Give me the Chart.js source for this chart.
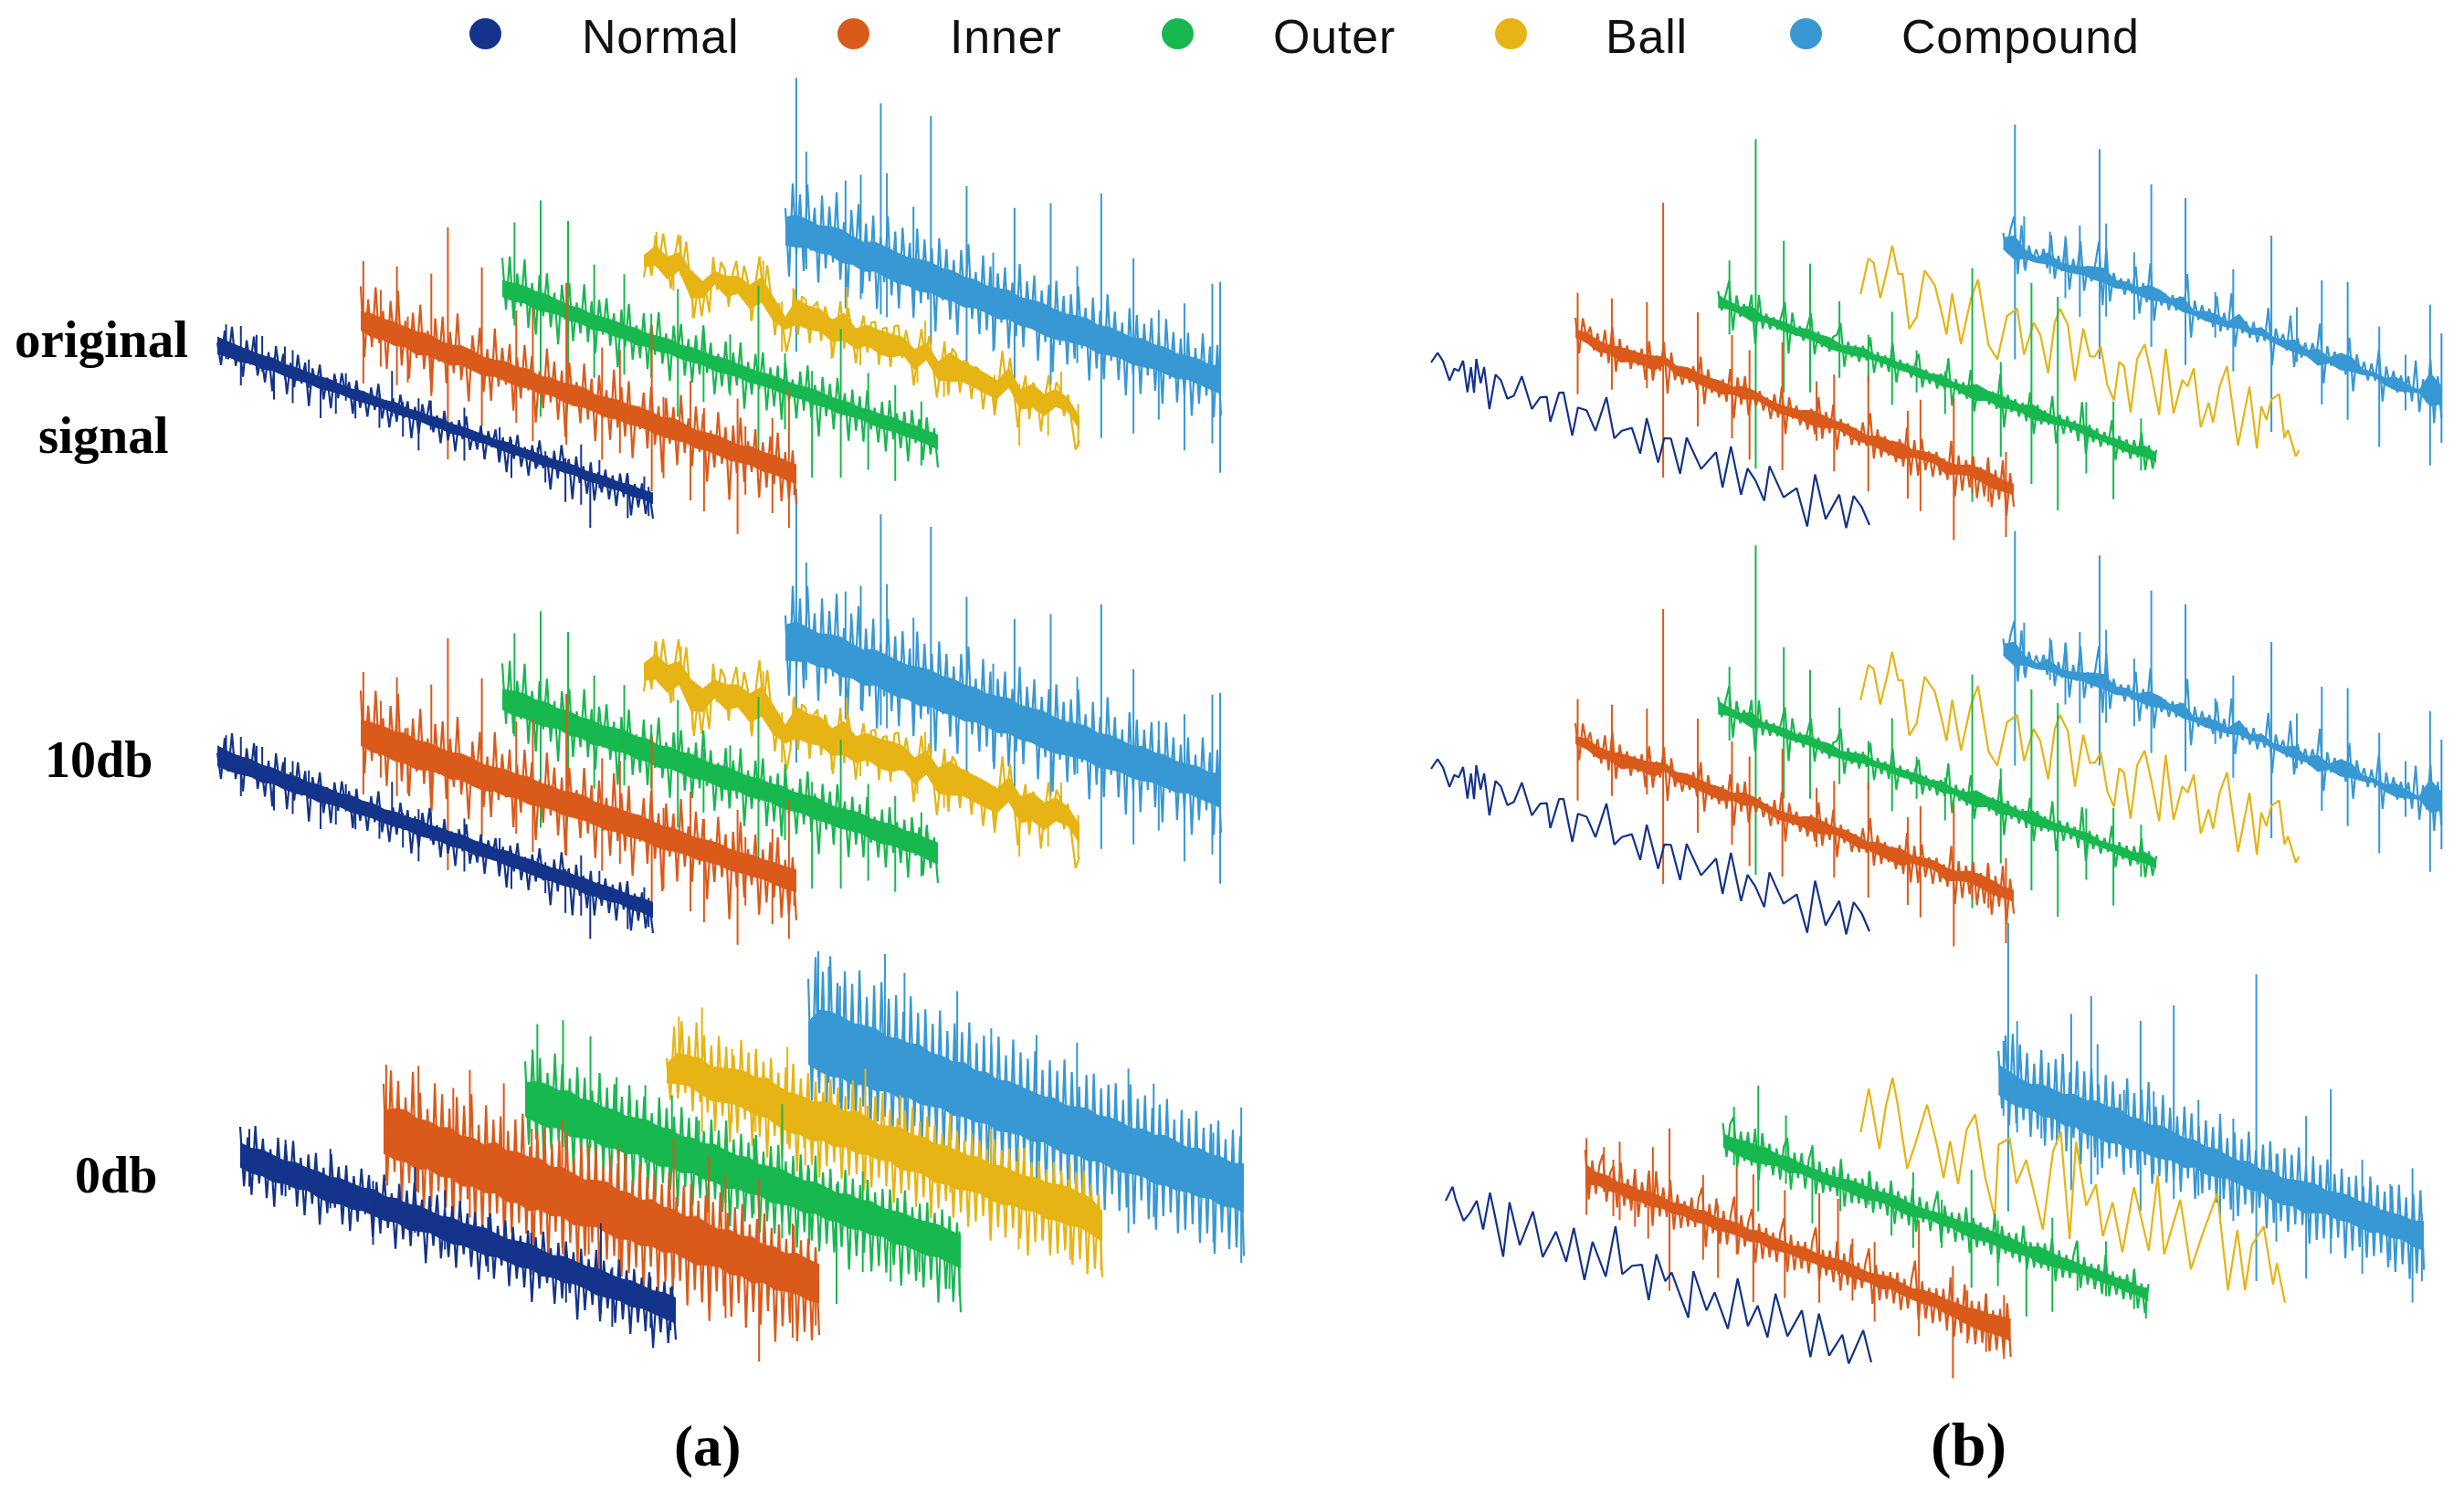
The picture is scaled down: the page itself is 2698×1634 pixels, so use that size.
<!DOCTYPE html>
<html>
<head>
<meta charset="utf-8">
<title>Waterfall signals</title>
<script src="https://cdn.jsdelivr.net/npm/chart.js@4"></script>
<style>
html, body { margin: 0; padding: 0; background: #fff; }
#wrap { position: relative; width: 2698px; height: 1634px; overflow: hidden; }
canvas { position: absolute; left: 0; top: 0; }
.lbl { position: absolute; white-space: nowrap; color: #000; font-family: "Liberation Serif", serif; font-weight: bold; line-height: normal; }
.leg { position: absolute; white-space: nowrap; color: #111; font-family: "Liberation Sans", sans-serif; font-size: 52px; letter-spacing: 0.8px; line-height: normal; }
.dot { position: absolute; width: 35px; height: 34px; border-radius: 50%; }
</style>
</head>
<body>
<div id="wrap"><canvas id="waves" width="2698" height="1634"></canvas></div>
<script>
// classes
const classNames = ['Normal', 'Inner', 'Outer', 'Ball', 'Compound'];

// --- (a) original signal : band top / bottom around the slanted baseline
const normalA1Hi = [20,18,16,15,14,16,12,13,12,11,13,10,9,12,10,9,12,8,10,9,11,8,10,9,8,7,10,8,9,8,7,9,10,7,8,9,7,10,8,9];
const normalA1Lo = [-14,-12,-14,-10,-13,-9,-11,-12,-9,-12,-10,-9,-11,-10,-9,-8,-10,-9,-8,-10,-9,-11,-8,-10,-8,-9,-10,-9,-10,-12,-10,-11,-9,-12,-10,-11,-9,-12,-10,-12];
const innerA1Hi = [25,28,26,27,25,24,27,22,20,26,24,19,21,25,22,26,20,24,22,25,27,21,23,26,24,27,25,22,28,24,20,22,24,21,20,25,22,24,21,20];
const innerA1Lo = [-12,-18,-16,-19,-15,-22,-16,-18,-20,-12,-15,-18,-12,-14,-16,-12,-15,-10,-14,-16,-12,-14,-16,-13,-15,-12,-14,-16,-15,-12,-16,-13,-15,-17,-14,-12,-16,-14,-17,-18];
const outerA1Hi = [18,20,22,19,20,17,14,16,12,14,15,13,15,12,14,16,12,15,14,13,16,14,13,12,15,14,12,14,16,13,12,14,11,13,12,14,12,13,11,10];
const outerA1Lo = [-14,-16,-12,-17,-14,-12,-16,-13,-18,-14,-16,-15,-18,-14,-16,-13,-15,-14,-12,-16,-14,-12,-15,-13,-12,-14,-13,-12,-14,-12,-15,-13,-12,-14,-16,-13,-15,-14,-16,-18];
const ballA1Hi = [6,33,19,36,8,-5,23,21,30,20,43,12,-20,24,19,20,7,29,6,21,19,20,21,5,26,-3,23,14,11,6,0,32,-1,17,5,23,14,-16];
const ballA1Lo = [-17,-6,-25,0,-46,-38,-3,-19,-5,-27,-6,-35,-44,-26,-28,-24,-36,-25,-34,-19,-28,-27,-13,-35,-7,-39,-34,-26,-29,-34,-36,-5,-41,-29,-38,-11,-13,-41];
const compoundA1Hi = [24,36,34,30,36,38,32,28,36,34,30,28,32,34,30,32,28,30,26,28,32,26,28,30,26,24,28,30,24,28,26,22,28,24,26,22,24,26,22,28];
const compoundA1Lo = [-32,-28,-22,-24,-20,-28,-24,-30,-22,-26,-30,-28,-32,-26,-30,-28,-32,-26,-28,-32,-26,-30,-28,-32,-34,-30,-28,-26,-32,-28,-26,-30,-28,-24,-26,-28,-22,-24,-26,-28];

// --- (a) 10db
const normalA2Hi = [24,20,18,20,16,18,15,17,14,16,15,13,17,14,16,12,15,13,15,12,14,13,15,12,13,11,14,12,13,12,11,14,12,13,11,13,12,11,13,12];
const normalA2Lo = [-16,-18,-17,-14,-18,-13,-16,-17,-13,-18,-15,-13,-16,-14,-13,-15,-14,-13,-16,-14,-13,-15,-12,-16,-14,-13,-15,-14,-16,-17,-15,-16,-13,-18,-15,-16,-13,-17,-15,-18];
const innerA2Hi = [30,32,33,30,34,28,31,29,27,32,30,26,28,31,29,32,28,30,27,31,33,28,29,31,30,32,29,27,30,28,26,29,31,27,28,30,29,31,30,32];
const innerA2Lo = [-20,-26,-24,-28,-26,-30,-24,-22,-26,-20,-24,-26,-20,-22,-18,-22,-20,-16,-20,-18,-16,-18,-20,-16,-18,-15,-18,-20,-16,-14,-16,-14,-12,-15,-13,-12,-10,-12,-14,-12];
const outerA2Hi = [22,26,28,24,26,22,24,20,22,19,22,24,20,23,18,22,20,23,19,18,22,20,18,21,19,22,18,20,23,19,17,20,22,18,19,21,18,20,17,16];
const outerA2Lo = [-18,-22,-20,-24,-22,-18,-24,-20,-26,-22,-24,-20,-24,-22,-26,-20,-22,-24,-20,-22,-24,-18,-22,-20,-18,-22,-20,-18,-22,-20,-22,-20,-18,-22,-24,-20,-22,-20,-24,-26];
const ballA2Hi = [12,38,24,40,12,2,28,26,34,24,46,18,-14,30,24,26,12,34,12,26,24,26,26,10,32,6,28,20,16,12,6,36,6,22,10,28,18,-10];
const ballA2Lo = [-22,-12,-30,-6,-50,-44,-8,-24,-10,-32,-12,-40,-50,-32,-34,-30,-42,-32,-40,-26,-34,-34,-20,-42,-14,-44,-40,-32,-36,-40,-42,-12,-46,-34,-44,-18,-20,-46];
const compoundA2Hi = [30,44,40,36,42,44,38,34,42,40,36,34,38,40,36,38,34,36,32,34,38,32,34,36,32,30,34,36,30,34,32,28,34,30,32,28,30,32,28,34];
const compoundA2Lo = [-40,-34,-28,-30,-26,-34,-30,-36,-28,-32,-36,-34,-38,-32,-36,-34,-38,-32,-34,-38,-32,-36,-34,-38,-40,-36,-34,-32,-38,-34,-32,-36,-34,-30,-32,-34,-28,-30,-32,-34];

// --- (a) 0db
const normalA3Hi = [25,22,26,23,20,24,21,22,19,23,21,20,24,18,22,19,23,20,18,22,19,21,24,20,18,21,23,19,17,22,20,18,21,19,17,20,18,16,19,17];
const normalA3Lo = [-18,-22,-20,-24,-20,-22,-18,-24,-26,-22,-24,-20,-22,-24,-20,-26,-22,-18,-22,-24,-20,-22,-24,-20,-22,-24,-20,-26,-22,-24,-20,-22,-26,-24,-22,-26,-22,-24,-26,-28];
const innerA3Hi = [42,52,56,48,50,46,52,44,48,42,54,46,50,48,52,44,50,46,42,48,52,44,46,40,48,42,44,38,46,40,36,42,38,44,36,40,34,42,38,36];
const innerA3Lo = [-34,-38,-36,-42,-34,-40,-36,-44,-38,-42,-36,-44,-40,-46,-38,-42,-36,-44,-40,-34,-38,-42,-36,-40,-34,-38,-32,-36,-40,-34,-30,-36,-32,-38,-30,-36,-32,-30,-34,-32];
const outerA3Hi = [30,38,40,36,42,35,38,34,36,32,35,38,33,36,30,34,31,36,32,30,34,28,31,33,29,27,31,28,25,30,27,31,26,28,30,27,29,31,28,26];
const outerA3Lo = [-30,-34,-36,-30,-38,-34,-30,-36,-32,-34,-28,-32,-36,-30,-34,-28,-32,-30,-34,-28,-30,-26,-32,-28,-26,-30,-24,-28,-26,-30,-26,-28,-24,-30,-26,-28,-30,-26,-30,-32];
const ballA3Hi = [8,34,36,38,30,35,40,42,38,44,36,32,34,30,36,38,32,40,36,30,34,38,32,36,30,34,32,30,34,28,32,30,28,32,30,34,36,32,30,12];
const ballA3Lo = [-26,-20,-18,-24,-30,-26,-22,-24,-28,-26,-34,-38,-36,-40,-32,-36,-30,-34,-30,-32,-28,-36,-32,-30,-38,-34,-36,-32,-30,-34,-36,-30,-32,-28,-34,-30,-32,-28,-34,-40];
const compoundA3Hi = [30,58,62,60,55,58,60,52,56,54,58,50,52,48,54,46,50,44,48,46,44,42,46,40,44,48,42,46,44,40,46,42,48,44,40,46,42,44,40,46];
const compoundA3Lo = [-44,-50,-52,-48,-54,-46,-50,-44,-48,-42,-46,-44,-40,-46,-42,-44,-40,-46,-42,-40,-44,-38,-42,-46,-40,-44,-38,-42,-44,-40,-38,-44,-40,-42,-38,-40,-36,-42,-38,-40];

// --- (a) vibration samples, original and 10db
const normalANoise = [4,-16,18,-8,24,-12,8,-20,16,-6,22,-14,6,-18,12,-24,20,-4,15,-22,9,-13,19,-7,14,-26,11,-5,17,-15,7,-21,13,-9,16,-3,10,-19,14,-11,6,-17,12,-8,18,-14,5,-20,9,-12,15,-6,11,-23,8,-16,13,-4,19,-10,7,-18,14,-13,6,-21,10,-7,16,-15,4,-12,12,-19,9,-5,13,-17,8,-24,11,-9,15,-14,6,-20,10,-11,17,-8,5,-26,12,-13,20,-6,9,-28,14,-10,7,-18,13,-22,6,-12,11,-16,8,-20,12,-9,15,-24,7,-14,10,-18,5,-20];
const innerANoise = [36,-30,26,-18,40,-12,20,-34,32,-8,44,-26,18,-36,28,-14,38,-22,16,-42,30,-10,34,-28,22,-16,42,-20,12,-38,26,-6,36,-24,18,-30,40,-14,24,-10,30,-32,20,-18,34,-8,26,-36,14,-20,38,-12,28,-26,22,-40,32,-6,16,-22,36,-16,24,-34,30,-10,18,-28,40,-14,26,-20,34,-38,12,-8,28,-24,36,-18,20,-42,30,-12,24,-30,38,-16,18,-26,32,-10,28,-36,14,-20,34,-14,22,-46,26,-18,36,-24,16,-12,30,-34,20,-22,28,-16,34,-30,18,-26,22,-28];
const outerANoise = [30,-18,34,-24,20,-10,36,-28,16,-32,26,-12,30,-20,14,-34,24,-8,28,-26,12,-16,32,-22,18,-30,22,-10,26,-18,14,-36,20,-14,28,-24,10,-20,24,-28,16,-12,30,-18,12,-32,22,-8,26,-22,14,-26,20,-16,32,-12,18,-30,10,-20,24,-24,16,-14,28,-34,12,-18,22,-10,26,-28,14,-22,18,-32,24,-12,10,-26,20,-16,28,-20,12,-36,22,-14,18,-24,26,-10,14,-30,20,-18,16,-26,24,-12,10,-22,18,-28,22,-14,12,-20,16,-30,20,-10,14,-24,18,-16,10,-26];
const ballANoise = [-18,6,-14,26,2,30,8,-20,12,34,4,30,-6,-40,-10,-36,-8,-30,24,-6,22,16,-18,14,28,-2,26,12,-24,14,40,2,34,6,-30,2,-18,-42,-24,20,-22,16,14,-26,10,16,-20,14,2,-32,-4,24,-20,20,-2,-30,0,18,-16,14,16,-24,12,14,-22,18,20,-10,18,2,-32,-2,24,-4,20,-6,-36,-8,20,-30,16,12,-24,8,8,-26,6,4,-32,-2,-2,-34,-4,30,-2,26,-4,-38,-6,14,-26,10,2,-34,-2,22,-8,18,12,-12,10,-16,-40,-30];
const compoundANoise = [20,-44,46,-20,38,-34,50,-12,30,-40,44,-24,36,-16,52,-30,26,-44,40,-10,48,-36,32,-22,42,-46,24,-18,46,-28,34,-38,40,-14,28,-42,44,-26,36,-20,30,-48,42,-16,34,-32,26,-44,38,-12,46,-24,22,-36,40,-30,32,-46,28,-18,36,-40,24,-26,44,-34,30,-14,38,-42,26,-22,34,-48,40,-20,28,-36,32,-28,42,-16,24,-44,36,-30,26,-38,44,-18,30,-34,22,-46,38,-24,34,-40,28,-20,36,-32,24,-42,40,-16,30,-36,26,-26,34,-44,22,-30,38,-20,28,-38,32,-34];

// --- (a) vibration samples, 0db
const normalA3Noise = [30,-28,22,-34,36,-20,26,-32,18,-38,32,-24,28,-16,34,-30,20,-36,26,-22,30,-40,18,-26,34,-18,24,-32,28,-36,20,-24,30,-14,26,-34,22,-28,32,-20,16,-38,28,-26,24,-30,34,-18,20,-42,26,-22,30,-32,18,-28,24,-36,32,-20,22,-30,26,-40,16,-24,30,-34,20,-18,28,-36,24,-26,18,-32,26,-44,22,-28,30,-20,16,-38,24,-30,28,-22,20,-46,26,-34,18,-26,30,-40,22,-24,16,-36,28,-30,20,-42,24,-28,18,-34,26,-48,14,-30,22,-38,20,-32];
const innerA3Noise = [50,-50,66,-34,58,-60,44,-40,72,-46,54,-64,40,-56,68,-38,60,-52,48,-70,62,-44,56,-36,70,-58,42,-62,64,-48,52,-40,58,-66,46,-54,60,-42,68,-50,38,-60,56,-46,62,-72,48,-38,54,-58,66,-44,42,-64,58,-52,50,-36,60,-68,44,-48,56,-42,52,-60,64,-54,40,-46,58,-70,48,-40,54,-62,46,-50,60,-56,38,-44,52,-66,56,-48,42,-58,50,-74,46,-42,58,-54,40,-62,48,-46,54,-68,36,-50,44,-60,52,-44,40,-72,46,-54,34,-48,50,-64,38,-52,42,-58,36,-50];
const outerA3Noise = [38,-44,52,-36,46,-52,34,-40,56,-30,48,-46,36,-54,50,-34,42,-48,32,-38,52,-44,40,-56,46,-30,36,-42,50,-50,38,-34,44,-46,30,-52,48,-36,40,-40,34,-54,46,-32,38,-48,42,-38,30,-50,44,-34,36,-44,48,-56,32,-36,40,-46,34,-40,44,-52,30,-38,38,-48,42,-34,28,-44,36,-54,40,-36,32,-42,44,-50,30,-40,36,-46,26,-38,40,-58,34,-42,30,-36,38,-52,28,-44,34,-48,36,-38,30,-56,40,-42,26,-46,32,-50,36,-40,28,-60,34,-44,30,-54,26,-62];
const ballA3Noise = [10,-30,44,-26,52,-18,40,-34,56,-22,46,-30,38,-46,50,-28,42,-52,36,-40,54,-24,44,-48,50,-36,40,-54,46,-30,34,-50,42,-38,48,-58,36,-32,44,-46,38,-56,30,-42,46,-36,40,-50,34,-44,52,-40,38,-54,32,-48,44,-36,50,-42,36,-56,30,-44,40,-38,46,-52,34,-40,42,-58,36,-46,30,-36,44,-50,38,-42,32,-54,40,-46,36,-38,30,-60,42,-44,34,-52,38,-40,28,-48,44,-62,32,-46,36,-42,30,-54,40,-50,34,-44,28,-56,38,-48,42,-60,30,-52,24,-58];
const compoundA3Noise = [60,-60,84,-50,72,-68,90,-46,66,-74,80,-56,70,-64,86,-48,62,-70,76,-58,82,-44,68,-72,74,-54,60,-66,78,-50,64,-76,70,-46,58,-62,74,-68,56,-52,66,-70,60,-48,72,-60,54,-66,64,-74,58,-50,68,-62,52,-56,70,-72,60,-46,56,-64,66,-54,50,-70,62,-58,54,-48,68,-66,58,-52,46,-74,60,-60,64,-56,52,-68,58,-50,62,-64,48,-58,66,-72,54,-46,60,-62,50,-70,56,-54,64,-48,46,-66,58,-60,52,-52,62,-68,48,-56,54,-74,60,-50,44,-64,56,-60,52,-66];

// --- (a) impacts, shared by original and 10db (sample, up, down)
const normalASpikeAt = [20,54,90,103,130,155,173,210,237,272,295,317,372,401,426,462,490,567,648,675,735,753,799,835,856,877,942,980,990];
const normalASpikeUp = [28,32,28,29,10,26,25,21,10,10,20,10,10,40,10,20,22,27,19,10,11,10,10,31,10,21,15,20,10];
const normalASpikeDn = [-10,-33,-10,-10,-36,-10,-33,-10,-39,-28,-10,-26,-27,-10,-28,-37,-10,-31,-18,-32,-10,-24,-38,-35,-57,-10,-32,-10,-22];
const innerASpikeAt = [6,46,83,108,162,200,278,357,395,472,554,595,668,695,757,788,865,883,945,983,995];
const innerASpikeUp = [70,45,77,26,82,139,108,74,83,123,66,70,109,35,63,38,61,34,53,91,10];
const innerASpikeDn = [-64,-39,-53,-46,-52,-115,-66,-49,-63,-54,-57,-43,-73,-54,-68,-75,-87,-41,-51,-61,-23];
const outerASpikeAt = [28,88,151,211,280,342,403,462,523,588,649,711,777,840,902,962];
const outerASpikeUp = [78,112,100,62,63,30,67,23,37,101,37,28,85,47,44,36];
const outerASpikeDn = [-35,-125,-85,-62,-47,-40,-73,-47,-30,-79,-46,-89,-78,-59,-61,-34];
const ballASpikeAt = [29,68,85,112,246,274,317,343,431,466,497,628,646,689,805,862,928,958,997];
const ballASpikeUp = [34,5,39,5,5,43,5,24,5,46,5,5,38,5,5,5,5,34,5];
const ballASpikeDn = [-5,-24,-5,-47,-28,-5,-50,-5,-39,-5,-35,-33,-5,-38,-39,-63,-41,-5,-42];
const compoundASpikeAt = [25,48,138,173,219,233,294,334,416,477,526,609,670,725,799,857,916,980,998];
const compoundASpikeUp = [170,93,76,88,174,100,73,179,116,53,110,129,70,159,100,53,70,102,107];
const compoundASpikeDn = [-130,-36,-64,-48,-57,-58,-38,-72,-78,-55,-97,-70,-36,-109,-92,-67,-91,-73,-102];

// --- (a) 0db impacts
const normalA3SpikeAt = [21,104,207,305,401,470,569,668,748,828,854,942,988];
const normalA3SpikeUp = [34,36,43,24,55,41,28,27,14,64,20,24,20];
const normalA3SpikeDn = [-29,-26,-22,-46,-17,-24,-32,-19,-36,-35,-45,-32,-27];
const innerA3SpikeAt = [6,80,160,198,276,340,410,471,540,666,747,785,862,939,992];
const innerA3SpikeUp = [77,88,77,103,101,62,83,66,75,105,99,85,94,57,39];
const innerA3SpikeDn = [-50,-51,-48,-59,-52,-65,-57,-54,-52,-48,-68,-72,-107,-68,-46];
const outerA3SpikeAt = [28,87,150,210,276,337,399,460,525,590,652,715,775,839,905,974,997];
const outerA3SpikeUp = [87,101,94,59,61,60,43,32,44,92,32,25,49,33,27,32,20];
const outerA3SpikeDn = [-31,-38,-28,-15,-24,-24,-27,-37,-39,-55,-52,-106,-61,-61,-40,-47,-51];
const ballA3SpikeAt = [28,81,150,204,277,318,364,456,536,651,744,808,862,926,997];
const ballA3SpikeUp = [61,80,46,50,69,20,54,75,59,58,56,47,20,50,10];
const ballA3SpikeDn = [-22,-57,-35,-36,-37,-54,-20,-51,-20,-29,-40,-65,-44,-57,-57];
const compoundA3SpikeAt = [23,47,73,176,221,342,420,524,617,735,793,930,994];
const compoundA3SpikeUp = [100,87,70,122,109,109,81,91,98,89,82,51,89];
const compoundA3SpikeDn = [-38,-40,-57,-56,-62,-52,-73,-76,-67,-91,-64,-69,-81];

// --- (b) original signal and 10db look the same after denoising
const normalBAt = [0,15,27,42,53,63,73,83,91,98,103,113,121,133,147,159,174,189,207,230,249,264,272,292,302,322,335,355,375,400,418,435,458,477,492,518,532,547,568,583,616,650,665,684,707,722,740,760,772,804,834,858,876,900,931,947,964,982,1000];
const normalBAmp = [-2,11,4,-15,0,-1,12,-21,8,-19,19,-6,13,-31,9,5,-13,-7,17,-15,1,4,-22,13,15,-29,4,4,-15,26,-16,-5,2,-23,18,-26,3,5,-30,12,-17,7,-29,19,-30,1,-9,-28,12,-17,-2,-40,20,-25,7,-27,11,2,-15];
const ballBAt = [0,18,30,45,63,72,86,96,111,128,146,169,184,196,209,229,252,268,292,312,334,357,373,395,410,428,443,455,473,489,508,523,535,548,563,578,590,601,616,631,648,663,681,696,714,734,746,760,776,794,804,819,836,861,887,904,914,926,937,955,967,975,993,1000];
const ballBAmp = [-24,18,15,-21,18,41,12,14,-44,-28,26,14,-12,-36,11,-41,13,36,-32,-44,7,19,-29,10,-1,-40,18,35,20,-38,22,-6,-4,9,-31,-45,-1,-4,-52,9,28,-2,-44,31,-37,3,-2,20,-42,-12,-32,10,35,-48,21,-44,4,-9,15,24,-22,-12,-38,-30];
const innerBHi = [14,17,9,8,11,12,12,16,21,12,16,13,11,12,9,17,15,9,6,7,8,16,14,11,12,9,4,11,9,13,7,11,12,7,7,15,16,13,8,8];
const innerBLo = [1,-2,-11,-7,-16,-8,-8,-10,8,-5,-4,-7,-9,-11,-4,-6,1,-4,-10,-9,-8,-11,-10,-2,-5,-11,-10,-12,-15,-17,-6,-5,-4,-17,-9,-5,-8,-13,-12,-12];
const outerBHi = [15,10,7,15,5,6,7,4,9,6,7,1,5,9,4,6,5,6,7,4,9,3,4,14,9,9,7,4,12,6,4,4,5,6,0,1,2,-1,7,1];
const outerBLo = [-8,-4,-6,-12,-5,-7,-10,-9,-8,-10,-13,-12,-11,-7,-6,-6,-8,-7,-10,-6,-11,-7,-13,-16,-8,-14,-10,-9,-15,-11,-10,-6,-8,-11,-10,-12,-15,-14,-13,-15];
const compoundBHi = [9,20,1,-5,10,0,1,6,13,17,2,6,3,14,12,3,14,-5,2,3,-3,18,-1,7,-2,-2,6,-6,4,-5,10,10,-5,-4,-7,1,-5,-8,30,14];
const compoundBLo = [-11,-23,-15,-15,-10,-13,-12,-8,-10,-9,-12,-7,-10,-12,-8,-7,-13,-12,-15,-14,-13,-8,-11,-7,-12,-15,-17,-16,-26,-15,-20,-16,-15,-11,-20,-23,-18,-13,-30,-19];
const innerBNoise = [20,-14,22,4,16,-6,12,-10,18,-14,24,-20,14,-8,10,-12,8,-6,12,-18,22,-16,10,-4,26,-24,18,-8,6,-10,8,-6,12,-10,24,-22,14,-8,6,-10,9,-12,22,-26,16,-10,20,-18,8,-6,10,-8,6,-14,12,-10,22,-24,14,-6,8,-10,6,-12,10,-14,24,-16,12,-8,22,-22,10,-6,8,-12,6,-10,14,-8,26,-18,12,-14,8,-10,6,-14,10,-16,24,-22,14,-20,18,-12,8,-16,10,-12,6,-14,26,-28,14,-20,12,-14,18,-22,10,-18,22,-26,12,-16,24,-30,14,-18];
const outerBNoise = [12,-6,10,26,-22,14,-6,8,-4,20,-28,22,-10,6,-8,5,-6,8,24,-26,16,-6,5,-8,7,22,-18,6,-8,4,-10,6,9,22,-20,6,-8,5,-10,7,-6,18,-16,6,-8,5,-10,20,-18,6,-4,5,-8,6,18,-14,5,-8,4,-10,6,-8,24,-22,6,-8,5,-10,20,-20,6,-6,5,-8,6,-10,26,-26,8,-8,6,-10,5,-12,18,-22,8,-10,5,-8,22,-24,6,-12,7,-8,5,-14,26,-24,6,-10,5,-12,4,-8,18,-20,5,-10,4,-14,6,-10,16,-20,6,-16,4];
const compoundBNoise = [10,-8,16,30,-26,24,-20,6,-8,5,-6,8,-10,24,-18,6,-8,26,-24,8,-6,28,-20,6,-8,10,34,-28,30,-22,8,-6,5,-10,7,-6,22,-24,8,-10,30,-26,6,-8,5,-10,6,-8,7,-6,32,-30,8,-10,6,-8,5,-12,20,-14,6,-10,28,-24,6,-8,5,-10,7,-12,4,-8,26,-30,8,-6,5,-10,26,-24,6,-12,4,-10,6,-8,28,-30,8,-10,5,-8,6,-14,24,-28,10,-8,5,-12,6,-10,22,-28,8,-10,6,-14,4,-12,6,-18,24,-26,8,-14,30,-32,16,-24];
const innerBSpikeAt = [5,83,163,200,279,357,397,472,550,590,668,758,787,863,905,942,982];
const innerBSpikeUp = [50,57,66,181,74,62,52,73,43,57,69,45,62,77,18,22,37];
const innerBSpikeDn = [-61,-43,-28,-120,-51,-51,-68,-67,-22,-49,-58,-51,-60,-79,-21,-24,-56];
const outerBSpikeAt = [26,86,150,210,277,343,397,453,518,580,645,715,775,840,902,965];
const outerBSpikeUp = [51,194,93,78,48,22,56,23,11,134,42,140,135,30,41,33];
const outerBSpikeDn = [-30,-167,-73,-63,-36,-31,-46,-23,-36,-122,-62,-80,-99,-48,-66,-24];
const compoundBSpikeAt = [27,48,107,142,175,220,235,299,338,416,484,525,612,670,727,786,858,918,974,1000];
const compoundBSpikeUp = [134,37,30,31,48,139,60,39,120,118,26,58,109,40,79,87,50,29,93,66];
const compoundBSpikeDn = [-123,-19,-16,-37,-52,-91,-42,-35,-58,-65,-24,-54,-106,-20,-57,-64,-82,-32,-83,-54];

// --- (b) 0db
const normalB3At = [0,16,23,42,57,73,88,104,115,135,150,174,205,228,259,283,301,326,345,376,399,415,438,461,477,495,516,531,570,582,613,632,663,686,710,733,756,775,803,837,857,877,901,932,947,981,1000];
const normalB3Amp = [-2,16,4,-17,-6,10,-19,24,2,-41,21,-22,20,-26,7,-22,18,-35,10,-23,36,-14,-1,4,-32,21,-5,7,-36,17,-21,2,-33,26,-22,4,-27,24,-18,16,-32,19,-23,5,-24,18,-14];
const ballB3At = [0,19,44,59,75,86,109,128,156,179,195,210,229,249,269,293,315,324,350,366,389,428,452,470,491,506,530,553,569,592,615,642,677,698,713,751,776,802,838,863,885,903,919,947,969,978,997];
const ballB3Amp = [-24,27,-35,14,48,23,-46,-16,32,-8,-42,1,-43,20,40,-26,-65,16,27,-20,10,-60,30,54,-60,49,-17,10,-44,-3,-54,22,-42,44,-40,26,-46,-5,47,-55,15,-48,4,29,-31,-6,-46];
const innerB3Hi = [22,14,15,10,12,9,13,11,8,12,10,14,9,11,13,8,12,10,9,7,12,9,8,11,12,9,7,10,13,9,6,10,11,8,8,7,10,9,12,14];
const innerB3Lo = [-18,-8,-12,-10,-14,-11,-13,-9,-12,-9,-13,-10,-14,-11,-10,-13,-9,-14,-11,-10,-12,-11,-14,-10,-13,-12,-11,-15,-9,-12,-14,-15,-13,-18,-20,-24,-26,-25,-24,-26];
const outerB3Hi = [14,12,15,14,16,11,14,10,9,8,7,9,12,10,9,11,12,8,6,7,9,8,8,12,10,9,10,8,5,12,9,7,8,6,8,7,5,7,4,6];
const outerB3Lo = [-10,-14,-17,-18,-14,-10,-15,-8,-10,-12,-12,-10,-13,-14,-10,-9,-13,-16,-12,-9,-12,-10,-14,-16,-13,-14,-16,-15,-13,-18,-16,-14,-13,-10,-12,-12,-11,-14,-13,-16];
const compoundB3Hi = [30,24,18,15,22,20,18,25,21,27,24,28,20,22,18,24,20,16,19,14,17,12,10,15,8,13,6,10,14,17,12,15,18,14,16,12,14,15,13,19];
const compoundB3Lo = [-24,-32,-34,-30,-36,-32,-38,-34,-40,-38,-42,-36,-40,-34,-38,-36,-32,-38,-30,-36,-34,-30,-32,-36,-32,-40,-42,-38,-43,-36,-30,-34,-31,-33,-36,-30,-32,-28,-34,-34];
const innerB3Noise = [26,-22,18,-14,16,28,-18,12,20,-20,26,-16,12,-18,24,-22,14,-10,28,-26,30,-14,16,-12,26,-22,14,-18,10,-14,16,-12,18,30,-28,16,-12,24,-20,14,-18,12,32,-24,16,-14,12,26,-26,14,-20,12,-16,10,-18,12,28,-24,14,-20,10,-16,12,-18,14,30,-22,10,-14,12,-18,24,-24,14,-16,26,-18,10,-14,12,28,-26,14,-20,10,-16,12,-18,14,-22,10,-18,12,32,-26,14,-22,10,-24,12,-20,14,-26,28,-30,10,-24,26,-28,12,-30,14,-26,24,-32,10,-28,14,-30,22,-30];
const outerB3Noise = [18,-14,20,28,-20,16,-12,18,-14,24,-26,22,-10,14,-16,12,-18,16,26,-24,14,-10,16,-18,12,26,-20,14,-16,10,-12,14,-14,24,-22,12,-16,10,-14,12,-16,22,-18,14,-12,10,-16,20,-22,12,-14,10,-18,20,-22,14,-10,12,-16,10,26,-24,14,-12,10,-18,12,-14,20,-24,12,-16,10,-12,8,-18,24,-24,14,-12,10,-14,12,-16,22,-20,8,-16,10,-14,12,-14,20,-22,10,-16,8,-14,10,26,-20,12,-14,8,-16,10,-18,22,-18,8,-14,6,-16,10,-14,18,-20,6,-22,8];
const compoundB3Noise = [30,-26,48,-40,52,-36,44,-30,38,-44,30,-34,46,-48,36,-40,42,-32,50,-46,34,-30,48,-54,40,-36,46,-42,32,-50,44,-38,40,-34,30,-46,48,-40,36,-44,42,-32,52,-48,30,-38,44,-42,34,-36,28,-46,40,-30,36,-48,26,-40,34,-34,30,-44,42,-38,24,-46,32,-50,28,-36,38,-42,22,-34,30,-52,36,-44,26,-40,34,-48,30,-38,40,-36,24,-52,36,-46,30,-42,38,-40,26,-36,34,-54,28,-44,32,-38,24,-46,36,-42,30,-36,26,-48,34,-50,38,-40,28,-52,34,-44,40,-38];
const innerB3SpikeAt = [3,44,66,81,117,148,159,198,277,312,356,395,469,550,594,628,680,784,864,898,942,984];
const innerB3SpikeUp = [42,39,29,51,27,26,58,85,47,20,70,67,62,72,73,35,40,81,44,23,27,32];
const innerB3SpikeDn = [-42,-10,-33,-35,-36,-44,-10,-93,-46,-60,-27,-73,-56,-48,-10,-33,-47,-46,-79,-35,-37,-38];
const outerB3SpikeAt = [26,83,148,210,276,343,396,447,514,584,646,713,774,833,900,966,994];
const outerB3SpikeUp = [42,75,53,31,20,23,12,40,21,65,20,8,44,27,39,18,4];
const outerB3SpikeDn = [-22,-63,-22,-55,-31,-13,-38,-43,-32,-64,-52,-74,-59,-26,-21,-24,-30];
const compoundB3SpikeAt = [12,23,44,101,137,171,218,233,295,334,365,412,470,521,552,606,653,723,781,855,921,973,995];
const compoundB3SpikeUp = [46,177,73,26,30,102,129,79,39,121,49,151,57,50,50,217,28,81,120,55,39,65,18];
const compoundB3SpikeDn = [-36,-139,-49,-46,-47,-91,-77,-64,-54,-87,-42,-61,-48,-70,-62,-119,-68,-97,-60,-70,-44,-82,-55];

// layout of the waterfall, not data
const classColors = ['#14338a', '#da5a1b', '#17b84f', '#e6b414', '#3798d4'];
const classShiftX = [0, 157, 312, 467, 622];
const classShiftY = [0, -25, -63, -97, -129];
const traceDrop = 165;

const a12Spikes = [
  [normalASpikeAt, normalASpikeUp, normalASpikeDn],
  [innerASpikeAt, innerASpikeUp, innerASpikeDn],
  [outerASpikeAt, outerASpikeUp, outerASpikeDn],
  [ballASpikeAt, ballASpikeUp, ballASpikeDn],
  [compoundASpikeAt, compoundASpikeUp, compoundASpikeDn]
];
const a3Spikes = [
  [normalA3SpikeAt, normalA3SpikeUp, normalA3SpikeDn],
  [innerA3SpikeAt, innerA3SpikeUp, innerA3SpikeDn],
  [outerA3SpikeAt, outerA3SpikeUp, outerA3SpikeDn],
  [ballA3SpikeAt, ballA3SpikeUp, ballA3SpikeDn],
  [compoundA3SpikeAt, compoundA3SpikeUp, compoundA3SpikeDn]
];
const b12Spikes = [null,
  [innerBSpikeAt, innerBSpikeUp, innerBSpikeDn],
  [outerBSpikeAt, outerBSpikeUp, outerBSpikeDn],
  null,
  [compoundBSpikeAt, compoundBSpikeUp, compoundBSpikeDn]
];
const b3Spikes = [null,
  [innerB3SpikeAt, innerB3SpikeUp, innerB3SpikeDn],
  [outerB3SpikeAt, outerB3SpikeUp, outerB3SpikeDn],
  null,
  [compoundB3SpikeAt, compoundB3SpikeUp, compoundB3SpikeDn]
];
const a12Noise = [normalANoise, innerANoise, outerANoise, ballANoise, compoundANoise];
const a3Noise = [normalA3Noise, innerA3Noise, outerA3Noise, ballA3Noise, compoundA3Noise];
const b12Noise = [null, innerBNoise, outerBNoise, null, compoundBNoise];
const b3Noise = [null, innerB3Noise, outerB3Noise, null, compoundB3Noise];
const b12Bodies = [
  {at: normalBAt, amp: normalBAmp}, {hi: innerBHi, lo: innerBLo}, {hi: outerBHi, lo: outerBLo},
  {at: ballBAt, amp: ballBAmp}, {hi: compoundBHi, lo: compoundBLo}
];

// k: class spacing, core: share of the band drawn solid, gain: vibration size
const panels = [
  {x: 238, y: 380, w: 477, k: 1, core: 0.55, gain: 1.15, spikes: a12Spikes, noise: a12Noise, bodies: [
    {hi: normalA1Hi, lo: normalA1Lo}, {hi: innerA1Hi, lo: innerA1Lo}, {hi: outerA1Hi, lo: outerA1Lo},
    {hi: ballA1Hi, lo: ballA1Lo}, {hi: compoundA1Hi, lo: compoundA1Lo}]},
  {x: 238, y: 830, w: 477, k: 1, core: 0.55, gain: 1.35, spikes: a12Spikes, noise: a12Noise, bodies: [
    {hi: normalA2Hi, lo: normalA2Lo}, {hi: innerA2Hi, lo: innerA2Lo}, {hi: outerA2Hi, lo: outerA2Lo},
    {hi: ballA2Hi, lo: ballA2Lo}, {hi: compoundA2Hi, lo: compoundA2Lo}]},
  {x: 263, y: 1267, w: 477, k: 1, core: 0.62, gain: 1.1, spikes: a3Spikes, noise: a3Noise, bodies: [
    {hi: normalA3Hi, lo: normalA3Lo}, {hi: innerA3Hi, lo: innerA3Lo}, {hi: outerA3Hi, lo: outerA3Lo},
    {hi: ballA3Hi, lo: ballA3Lo}, {hi: compoundA3Hi, lo: compoundA3Lo}]},
  {x: 1567, y: 395, w: 480, k: 1.007, core: 0.6, gain: 1.1, spikes: b12Spikes, noise: b12Noise, bodies: b12Bodies},
  {x: 1567, y: 840, w: 480, k: 1.007, core: 0.6, gain: 1.15, spikes: b12Spikes, noise: b12Noise, bodies: b12Bodies},
  {x: 1583, y: 1313, w: 466, k: 0.973, core: 0.6, gain: 1.1, spikes: b3Spikes, noise: b3Noise, bodies: [
    {at: normalB3At, amp: normalB3Amp}, {hi: innerB3Hi, lo: innerB3Lo}, {hi: outerB3Hi, lo: outerB3Lo},
    {at: ballB3At, amp: ballB3Amp}, {hi: compoundB3Hi, lo: compoundB3Lo}]}
];

// sample 0..1000 of a trace -> point on the slanted waterfall
function tracePoint(panel, c, sample, amp) {
  return {
    x: panel.x + classShiftX[c] * panel.k + panel.w * sample / 1000,
    y: panel.y + classShiftY[c] + traceDrop * sample / 1000 - amp
  };
}

function evenLine(panel, c, values, scale) {
  return values.map((v, i) => tracePoint(panel, c, 1000 * i / (values.length - 1), v * scale));
}

const datasets = [];
const lineBase = {pointRadius: 0, tension: 0, spanGaps: false, borderJoinStyle: 'bevel'};

panels.forEach(function(panel) {
  classNames.forEach(function(name, c) {
    const body = panel.bodies[c];
    const color = classColors[c];
    const spike = panel.spikes[c];
    const noise = panel.noise[c];
    if (spike) {
      const pts = [];
      spike[0].forEach(function(s, i) {
        pts.push(tracePoint(panel, c, s, spike[1][i]));
        pts.push(tracePoint(panel, c, s, spike[2][i]));
        pts.push({x: tracePoint(panel, c, s, 0).x, y: null});
      });
      datasets.push({...lineBase, label: name, data: pts, borderColor: color, borderWidth: 2, fill: false});
    }
    if (noise) {
      datasets.push({...lineBase, label: name, data: evenLine(panel, c, noise, panel.gain), borderColor: color, borderWidth: 2.2, fill: false});
    }
    if (body.hi) {
      datasets.push({...lineBase, label: name, data: evenLine(panel, c, body.hi, panel.core), borderColor: color, borderWidth: 1, backgroundColor: color, fill: '+1'});
      datasets.push({...lineBase, label: name, data: evenLine(panel, c, body.lo, panel.core), borderColor: color, borderWidth: 1, fill: false});
    } else {
      const pts = body.at.map((s, i) => tracePoint(panel, c, s, body.amp[i]));
      datasets.push({...lineBase, label: name, data: pts, borderColor: color, borderWidth: 2.2, fill: false});
    }
  });
});

new Chart(document.getElementById('waves'), {
  type: 'line',
  data: {datasets: datasets},
  options: {
    responsive: false,
    animation: false,
    devicePixelRatio: 1,
    layout: {padding: 0},
    parsing: {xAxisKey: 'x', yAxisKey: 'y'},
    scales: {
      x: {type: 'linear', min: 0, max: 2698, display: false},
      y: {type: 'linear', min: 0, max: 1634, reverse: true, display: false}
    },
    plugins: {legend: {display: false}, tooltip: {enabled: false}}
  }
});

// legend and row labels
const wrap = document.getElementById('wrap');
const legendDotX = [531, 934, 1289, 1654, 1977];
const legendTextX = [637, 1040, 1394, 1758, 2082];
classNames.forEach(function(name, c) {
  const dot = document.createElement('div');
  dot.className = 'dot';
  dot.style.left = (legendDotX[c] - 17) + 'px';
  dot.style.top = '20px';
  dot.style.background = classColors[c];
  wrap.appendChild(dot);
  const t = document.createElement('div');
  t.className = 'leg';
  t.textContent = name;
  t.style.left = legendTextX[c] + 'px';
  t.style.top = '10px';
  wrap.appendChild(t);
});

const labelTexts = ['original', 'signal', '10db', '0db', '(a)', '(b)'];
const labelX = [16, 42, 49, 82, 738, 2114];
const labelBaseline = [390, 495, 850, 1305, 1604, 1604];
const labelSize = [57, 57, 56, 56, 63, 68];
labelTexts.forEach(function(text, i) {
  const t = document.createElement('div');
  t.className = 'lbl';
  t.textContent = text;
  t.style.left = labelX[i] + 'px';
  t.style.fontSize = labelSize[i] + 'px';
  t.style.top = (labelBaseline[i] - 0.891 * labelSize[i]) + 'px';
  wrap.appendChild(t);
});
</script>
</body>
</html>
